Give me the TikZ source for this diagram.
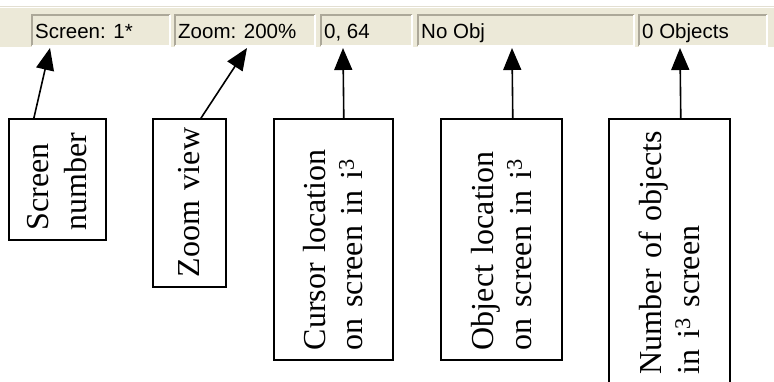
\documentclass[tikz,border=0pt]{standalone}
\usepackage{fontspec}
\setmainfont{Liberation Serif}
\newfontfamily\barfont{Liberation Sans}
\usetikzlibrary{arrows.meta}
\definecolor{barBeige}{HTML}{ECE9D8}
\definecolor{barShade}{HTML}{ACA899}
\definecolor{barRule}{HTML}{E3DFD2}
\begin{document}
\begin{tikzpicture}[x=1pt, y=-1pt,
  captionbox/.style={draw, line width=1.6pt, rotate=90, anchor=north west,
    inner xsep=10pt, inner ysep=0pt, align=left,
    font=\fontsize{32}{37.5}\selectfont},
  pointer/.style={line width=1.6pt, -{Triangle[length=22pt,width=18pt]}},
  bartext/.style={anchor=base west, inner sep=0pt,
    font=\barfont\fontsize{20.5}{24}\selectfont}]
% page frame, box 5 runs past the bottom edge
\useasboundingbox (0,0) rectangle (774,381);
\clip (0,0) rectangle (774,381);
\providecommand{\panelLineWidth}{1.5pt}
% Status bar background
\fill[barBeige] (0,8) rectangle (774,47);
\draw[barRule, line width=1.5pt] (0,6.5) -- (774,6.5);
% Sunken panels: dark top/left, white bottom/right
\begin{scope}[line width=\panelLineWidth]
  \draw[barShade] (32,46) |- (170,15);
  \draw[white] (170,15) |- (32,46);
  \draw[barShade] (175,46) |- (315,15);
  \draw[white] (315,15) |- (175,46);
  \draw[barShade] (321,46) |- (412,15);
  \draw[white] (412,15) |- (321,46);
  \draw[barShade] (418,46) |- (634,15);
  \draw[white] (634,15) |- (418,46);
  \draw[barShade] (639,46) |- (767,15);
  \draw[white] (767,15) |- (639,46);
\end{scope}
% Panel texts
\node[bartext] (scrtext) at (35,38) {Screen: 1*};
\node[bartext] (zoomtext) at (178,38) {Zoom: 200\%};
\node[bartext] (curtext) at (324,38) {0, 64};
\node[bartext] (objtext) at (421,38) {No Obj};
\node[bartext] (numtext) at (642,38) {0 Objects};
% Arrow tips on the panels
\coordinate (scrtip) at (50,48);
\coordinate (zoomtip) at (247,48);
\coordinate (curtip) at (343,48);
\coordinate (objtip) at (512,48);
\coordinate (numtip) at (680,48);
% Caption boxes (rotated, placed by their lower left corner)
\node[captionbox, minimum width=121pt, minimum height=97pt, text width=101pt]
  (scrbox) at (8,241) {Screen\\number};
\node[captionbox, minimum width=168pt, minimum height=73pt, text width=148pt]
  (zoombox) at (152,288) {Zoom~view};
\node[captionbox, minimum width=241pt, minimum height=119pt, text width=221pt]
  (curbox) at (273,361) {Cursor location\\on screen in i\textsuperscript{3}};
\node[captionbox, minimum width=241pt, minimum height=121pt, text width=221pt]
  (objbox) at (440,361) {Object location\\on screen in i\textsuperscript{3}};
\node[captionbox, minimum width=265pt, minimum height=121pt, text width=245pt]
  (numbox) at (608,385) {Number of objects\\in i\textsuperscript{3} screen};
% Pointers
\draw[pointer] ([xshift=-23.5pt]scrbox.east) -- (scrtip);
\draw[pointer] ([xshift=11.5pt]zoombox.east) -- (zoomtip);
\draw[pointer] ([xshift=10.5pt]curbox.east) -- (curtip);
\draw[pointer] ([xshift=11.5pt]objbox.east) -- (objtip);
\draw[pointer] ([xshift=11.5pt]numbox.east) -- (numtip);
\end{tikzpicture}
\end{document}
